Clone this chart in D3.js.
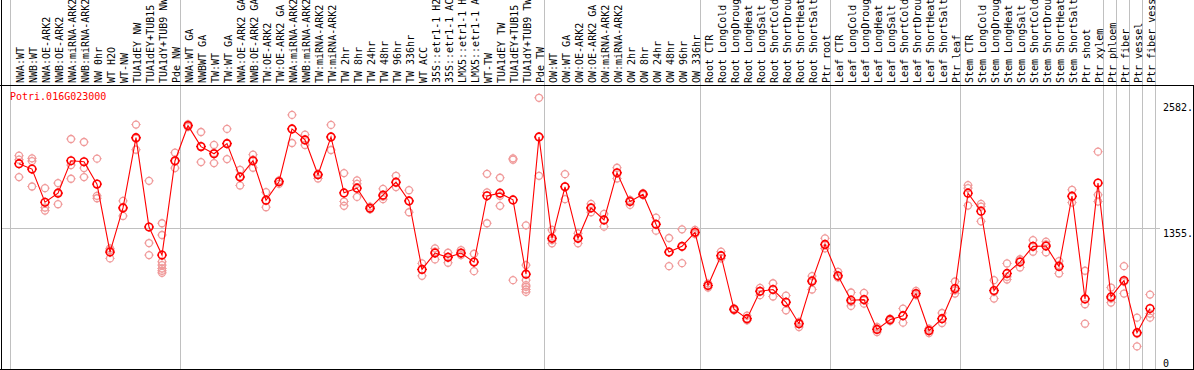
<!DOCTYPE html>
<html>
<head>
<meta charset="utf-8">
<script src="https://cdn.jsdelivr.net/npm/d3@7"></script>
<style>
  body { margin: 0; background: #fff; }
  text { font-family: "DejaVu Sans Mono", monospace; font-size: 10px; }
</style>
</head>
<body>
<svg id="chart"></svg>
<script>
// chart data
const geneId = "Potri.016G023000";

const samples = [
  "NWA:WT", "NWB:WT", "NWA:OE-ARK2", "NWB:OE-ARK2", "NWA:miRNA-ARK2", "NWB:miRNA-ARK2",
  "NW 0hr", "WT H2O", "WT-NW", "TUA1dEY NW", "TUA1dEY+TUB15 NW", "TUA1dY+TUB9 NW", "Pde NW",
  "NWA:WT GA", "NWBWT GA", "TW:WT", "TW:WT GA", "NWA:OE-ARK2 GA", "NWB:OE-ARK2 GA",
  "TW:OE-ARK2", "TW:OE-ARK2 GA", "NWA:miRNA-ARK2", "NWB:miRNA-ARK2", "TW:miRNA-ARK2",
  "TW:miRNA-ARK2", "TW 2hr", "TW 8hr", "TW 24hr", "TW 48hr", "TW 96hr", "TW 336hr",
  "WT ACC", "35S::etr1-1 H2O", "35S::etr1-1 ACC", "LMX5::etr1-1 H2O", "LMX5::etr1-1 ACC",
  "WT-TW", "TUA1dEY TW", "TUA1dEY+TUB15 TW", "TUA1dY+TUB9 TW", "Pde TW",
  "OW:WT", "OW:WT GA", "OW:OE-ARK2", "OW:OE-ARK2 GA", "OW:miRNA-ARK2", "OW:miRNA-ARK2",
  "OW 2hr", "OW 8hr", "OW 24hr", "OW 48hr", "OW 96hr", "OW 336hr",
  "Root CTR", "Root LongCold", "Root LongDrought", "Root LongHeat", "Root LongSalt",
  "Root ShortCold", "Root ShortDrought", "Root ShortHeat", "Root ShortSalt", "Ptr root",
  "Leaf CTR", "Leaf LongCold", "Leaf LongDrought", "Leaf LongHeat", "Leaf LongSalt",
  "Leaf ShortCold", "Leaf ShortDrought", "Leaf ShortHeat", "Leaf ShortSalt", "Ptr leaf",
  "Stem CTR", "Stem LongCold", "Stem LongDrought", "Stem LongHeat", "Stem LongSalt",
  "Stem ShortCold", "Stem ShortDrought", "Stem ShortHeat", "Stem ShortSalt", "Ptr shoot", "Ptr xylem",
  "Ptr phloem", "Ptr fiber", "Ptr vessel", "Ptr fiber vessel"
];

// sample index where a new group starts (separator lines)
const groupBreaks = [13, 41, 53, 63, 73, 84, 85, 86, 87, 88];

const means = [
  1978, 1926, 1604, 1692, 2007, 1997, 1780, 1120, 1549, 2231, 1364, 1091, 2007,
  2348, 2144, 2075, 2173, 1848, 2007, 1624, 1803, 2316, 2209, 1871, 2238, 1695, 1741,
  1546, 1673, 1799, 1617, 952, 1111, 1069, 1111, 1023, 1666, 1692, 1627, 906, 2238,
  1254, 1754, 1254, 1549, 1432, 1890, 1611, 1682, 1390, 1120, 1176, 1312,
  796, 1085, 565, 474, 740, 757, 633, 425, 838, 1195,
  890, 653, 659, 370, 464, 503, 718, 357, 474, 766,
  1692, 1517, 747, 913, 1023, 1176, 1179, 981, 1663, 666, 1790,
  685, 844, 338, 572
];

const replicates = [
  [2056, 2017, 1848], [2030, 2004, 1757], [1741, 1552, 1523], [1790, 1699, 1585],
  [2218, 1965, 1832], [2189, 1936, 1848], [2027, 1666, 1643], [1156, 1140, 1059],
  [1617, 1556, 1471], [2358, 2221, 2114], [1812, 1208, 1091],
  [1400, 1286, 1026, 994, 961, 939, 919], [2085, 2001, 1936],
  [2361, 2348, 2335], [2286, 2147, 1994], [2160, 2082, 1984], [2316, 2179, 2023],
  [1919, 1854, 1767], [2066, 2017, 1939], [1702, 1621, 1556], [1816, 1806, 1783],
  [2452, 2316, 2179], [2260, 2212, 2160], [1880, 1871, 1835], [2355, 2238, 2111],
  [1887, 1611, 1569], [1816, 1783, 1656], [1562, 1546, 1536], [1734, 1660, 1634],
  [1861, 1796, 1751], [1721, 1617, 1507], [1010, 952, 890], [1156, 1124, 1049],
  [1114, 1075, 1017], [1140, 1108, 1091], [1104, 1026, 935], [1880, 1699, 1400],
  [1842, 1666, 1569], [2030, 2017, 848],
  [1380, 994, 848, 799, 783, 757, 734], [2618, 2238, 1861],
  [1335, 1237, 1205], [1877, 1757, 1634], [1302, 1254, 1205], [1588, 1549, 1507],
  [1491, 1432, 1367], [1939, 1890, 1835], [1627, 1617, 1578], [1692, 1682, 1673],
  [1455, 1390, 1328], [1257, 1120, 984], [1341, 1172, 1013], [1335, 1312, 1296],
  [815, 796, 776], [1124, 1085, 1059], [575, 565, 555], [503, 474, 458],
  [773, 740, 702], [818, 757, 689], [698, 637, 555], [442, 425, 393],
  [887, 848, 757], [1254, 1189, 1156],
  [929, 890, 874], [728, 637, 598], [724, 653, 620], [393, 377, 344],
  [474, 464, 451], [572, 503, 435], [744, 718, 702], [377, 361, 335],
  [529, 474, 432], [835, 750, 718],
  [1770, 1741, 1572], [1588, 1562, 1419], [848, 734, 669], [1010, 880, 854],
  [1052, 1043, 971], [1237, 1172, 1124], [1221, 1195, 1117], [1033, 994, 913],
  [1725, 1660, 1601], [939, 614, 425], [2095, 1676, 1611],
  [776, 669, 630], [984, 831, 718], [484, 328, 205], [708, 523, 484]
];

const yTicks = [0, 1355, 2582];
const yTickLabels = ["0", "1355.", "2582."];
const gridValue = 1355;

// layout
const width = 1194, height = 370;
const colW = 13, left = 11;
const headerBottom = 85.5, plotBottom = 369.5;

const svg = d3.select("#chart")
  .attr("width", width)
  .attr("height", height);

const x = d3.scaleBand()
  .domain(d3.range(samples.length))
  .range([left, left + colW * samples.length])
  .padding(0);

const y = d3.scaleLinear()
  .domain([0, 2582])
  .range([367.5, 101.5]);

const cx = i => x(i) + 8;

// grey separators
svg.append("line")
  .attr("x1", 10.5).attr("x2", 10.5)
  .attr("y1", 0).attr("y2", plotBottom)
  .attr("stroke", "#c0c0c0");

svg.selectAll(".sep")
  .data(groupBreaks)
  .enter().append("line")
  .attr("class", "sep")
  .attr("x1", d => x(0) + d * colW + 0.5)
  .attr("x2", d => x(0) + d * colW + 0.5)
  .attr("y1", 0).attr("y2", plotBottom)
  .attr("stroke", "#c0c0c0");

// horizontal grid line
svg.append("line")
  .attr("x1", 2).attr("x2", 1160)
  .attr("y1", Math.round(y(gridValue)) + 0.5)
  .attr("y2", Math.round(y(gridValue)) + 0.5)
  .attr("stroke", "#c0c0c0");

// black frame
svg.append("line")
  .attr("x1", 0).attr("x2", width)
  .attr("y1", headerBottom).attr("y2", headerBottom)
  .attr("stroke", "#000");
svg.append("line")
  .attr("x1", 0).attr("x2", width)
  .attr("y1", plotBottom).attr("y2", plotBottom)
  .attr("stroke", "#000");
svg.append("line")
  .attr("x1", 1.5).attr("x2", 1.5)
  .attr("y1", 0).attr("y2", height)
  .attr("stroke", "#000");
svg.append("line")
  .attr("x1", width - 0.5).attr("x2", width - 0.5)
  .attr("y1", headerBottom).attr("y2", plotBottom)
  .attr("stroke", "#000");

// sample labels, rotated
svg.selectAll(".lab")
  .data(samples)
  .enter().append("text")
  .attr("class", "lab")
  .attr("transform", (d, i) => `translate(${x(i) + colW},83) rotate(-90)`)
  .attr("fill", "#000")
  .text(d => d);

// y labels on the right
svg.selectAll(".ytick")
  .data(yTicks)
  .enter().append("text")
  .attr("class", "ytick")
  .attr("x", 1163)
  .attr("y", d => Math.min(y(d) + 9, 366.5))
  .attr("fill", "#000")
  .text((d, i) => yTickLabels[i]);

// gene id
svg.append("text")
  .attr("x", 10).attr("y", 99.5)
  .attr("fill", "#ff0000")
  .text(geneId);

// little nubs like the original circle sprites
function nubs(px, py, r) {
  const a = r - 0.3, b = r + 1.2;
  return `M${px},${py - b}V${py - a}M${px},${py + a}V${py + b}` +
         `M${px - b},${py}H${px - a}M${px + a},${py}H${px + b}`;
}

// replicate points
const reps = [];
replicates.forEach((vals, i) => vals.forEach(v => reps.push({ i, v })));

const repG = svg.append("g");
repG.selectAll("circle")
  .data(reps)
  .enter().append("circle")
  .attr("cx", d => cx(d.i))
  .attr("cy", d => y(d.v))
  .attr("r", 3.5)
  .attr("fill", "none")
  .attr("stroke", "#f09a9a")
  .attr("stroke-width", 1.3);
repG.selectAll("path")
  .data(reps)
  .enter().append("path")
  .attr("d", d => nubs(cx(d.i), y(d.v), 3.5))
  .attr("stroke", "#f09a9a")
  .attr("stroke-width", 1);

// mean line
const line = d3.line()
  .x((d, i) => cx(i))
  .y(d => y(d));

svg.append("path")
  .datum(means)
  .attr("d", line)
  .attr("fill", "none")
  .attr("stroke", "#ff0000")
  .attr("stroke-width", 1.1);

// mean points
const meanG = svg.append("g");
meanG.selectAll("circle")
  .data(means)
  .enter().append("circle")
  .attr("cx", (d, i) => cx(i))
  .attr("cy", d => y(d))
  .attr("r", 3.8)
  .attr("fill", "none")
  .attr("stroke", "#ff0000")
  .attr("stroke-width", 1.6);
meanG.selectAll("path")
  .data(means)
  .enter().append("path")
  .attr("d", (d, i) => nubs(cx(i), y(d), 3.8))
  .attr("stroke", "#ff0000")
  .attr("stroke-width", 1);
</script>
</body>
</html>
